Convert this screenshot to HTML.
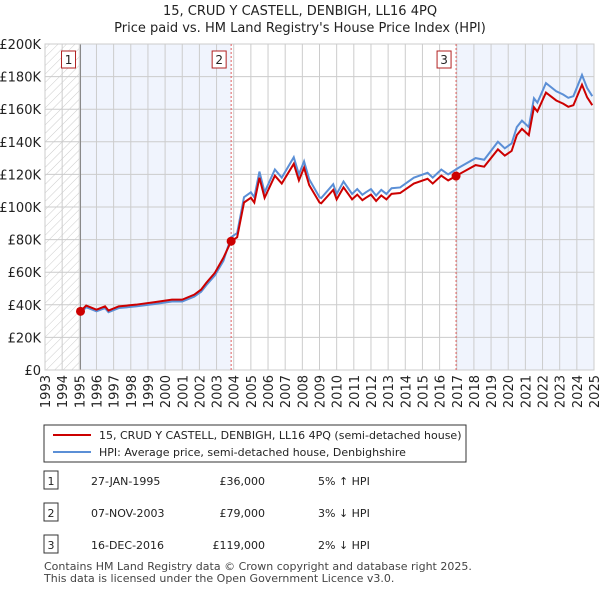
<!DOCTYPE html>
<html><head><meta charset="utf-8"><style>
body{margin:0;background:#fff;font-family:"Liberation Sans","DejaVu Sans",sans-serif;}
#wrap{position:relative;width:600px;height:590px;overflow:hidden}
svg text{font-family:"DejaVu Sans","Liberation Sans",sans-serif}
</style></head><body><div id="wrap">
<svg id="c" width="600" height="590"></svg>
</div>
<script>
const hpiYears=[1995.0,1995.4,1996.0,1996.5,1996.7,1997.3,1998.3,1999.4,2000.4,2001.0,2001.7,2002.1,2002.4,2002.9,2003.4,2003.85,2004.2,2004.6,2005.0,2005.2,2005.5,2005.8,2006.4,2006.8,2007.5,2007.8,2008.1,2008.4,2009.0,2009.1,2009.8,2010.0,2010.4,2010.9,2011.2,2011.5,2011.7,2012.0,2012.3,2012.6,2012.9,2013.2,2013.7,2014.5,2015.3,2015.6,2016.1,2016.5,2017.1,2018.1,2018.6,2019.4,2019.8,2020.2,2020.5,2020.8,2021.2,2021.5,2021.7,2022.2,2022.8,2023.2,2023.5,2023.8,2024.3,2024.6,2024.9];
const hpiValues=[34300,38500,36000,38000,35500,38000,39000,40500,42000,42000,45000,48000,52000,58000,67000,81500,84000,106000,109000,106000,121700,109000,123000,118000,130500,120000,128000,117000,106000,105500,114000,108000,115600,108000,111000,107500,109000,111000,107000,110500,108000,111500,112000,118000,121000,118000,123000,120000,124000,130000,129000,140000,136000,139000,149000,153000,149000,166700,164000,176000,171000,169000,167000,168000,181000,173000,168000];
const saleYears=[1995.07,2003.85,2016.96];
const salePrices=[36000,79000,119000];
const saleLabels=["1","2","3"];
const saleDates=["27-JAN-1995","07-NOV-2003","16-DEC-2016"];
const salePriceText=["£36,000","£79,000","£119,000"];
const saleHpiText=["5% \u2191 HPI","3% \u2193 HPI","2% \u2193 HPI"];
const yTicks=[0,20000,40000,60000,80000,100000,120000,140000,160000,180000,200000];
const yTickLabels=["£0","£20K","£40K","£60K","£80K","£100K","£120K","£140K","£160K","£180K","£200K"];
const xTicks=[1993,1994,1995,1996,1997,1998,1999,2000,2001,2002,2003,2004,2005,2006,2007,2008,2009,2010,2011,2012,2013,2014,2015,2016,2017,2018,2019,2020,2021,2022,2023,2024,2025];

const L=45,R=594,T=44,B=370;
const X=y=>L+(y-1993)/(2025-1993)*(R-L);
const Y=v=>B-v/200000*(B-T);
const svg=document.getElementById('c');
const NS='http://www.w3.org/2000/svg';
function mk(tag,attrs,parent){const e=document.createElementNS(NS,tag);for(const k in attrs)e.setAttribute(k,attrs[k]);(parent||svg).appendChild(e);return e;}
function hpiAt(yr){for(let i=0;i<hpiYears.length-1;i++){if(yr<=hpiYears[i+1]){const t=(yr-hpiYears[i])/(hpiYears[i+1]-hpiYears[i]);return hpiValues[i]+t*(hpiValues[i+1]-hpiValues[i]);}}return hpiValues[hpiValues.length-1];}

const defs=mk('defs',{});
const pat=mk('pattern',{id:'h',width:6,height:6,patternUnits:'userSpaceOnUse',patternTransform:'rotate(45)'},defs);
mk('line',{x1:0,y1:0,x2:0,y2:6,stroke:'#ccc','stroke-width':1},pat);
let e;
e=mk('rect',{x:L,y:T,width:X(saleYears[0])-L,height:B-T,fill:'url(#h)'});

e=mk('rect',{x:X(saleYears[0]),y:T,width:X(saleYears[1])-X(saleYears[0]),height:B-T,fill:'#f0f4fd'});

e=mk('rect',{x:X(saleYears[2]),y:T,width:R-X(saleYears[2]),height:B-T,fill:'#f0f4fd'});


yTicks.forEach((v,i)=>{
  e=mk('line',{x1:L,x2:R,y1:Y(v),y2:Y(v),stroke:'#ccc','stroke-width':1});
  
  e=mk('text',{x:L-4,y:Y(v)+5,'text-anchor':'end','font-size':13,fill:'#222'});e.textContent=yTickLabels[i];
  
});
xTicks.forEach(yr=>{
  e=mk('line',{x1:X(yr),x2:X(yr),y1:T,y2:B,stroke:'#ccc','stroke-width':1});
  
  e=mk('text',{transform:`translate(${X(yr)+5},${B+5}) rotate(-90)`,'text-anchor':'end','font-size':13,fill:'#222'});e.textContent=yr;
  
});
e=mk('line',{x1:X(saleYears[0]),x2:X(saleYears[0]),y1:T,y2:B,stroke:'#888','stroke-width':1});

e=mk('rect',{x:L,y:T,width:R-L,height:B-T,fill:'none',stroke:'#ccc'});


saleYears.forEach((yr,i)=>{
  if(i>0){e=mk('line',{x1:X(yr),x2:X(yr),y1:T,y2:B,stroke:'#e06060','stroke-width':1,'stroke-dasharray':'2,2'});
  }
});

const hp=hpiYears.map((y,i)=>X(y)+','+Y(hpiValues[i])).join(' ');
e=mk('polyline',{points:hp,fill:'none',stroke:'#5b8fd6','stroke-width':2});

const ratios=saleYears.map((y,i)=>salePrices[i]/hpiAt(y));
const rpts=[];
hpiYears.concat(saleYears).filter(y=>y>=saleYears[0]).sort((a,b)=>a-b).forEach(y=>{let k=0;for(let j=0;j<saleYears.length;j++)if(y>=saleYears[j]-0.001)k=j;rpts.push(X(y)+','+Y(hpiAt(y)*ratios[k]));});
e=mk('polyline',{points:rpts.join(' '),fill:'none',stroke:'#cc0000','stroke-width':2});


saleYears.forEach((yr,i)=>{
  e=mk('circle',{cx:X(yr),cy:Y(salePrices[i]),r:4.5,fill:'#cc0000'});
  
  e=mk('rect',{x:X(yr)-19,y:51,width:14,height:17,fill:'#fff',stroke:'#b22222'});
  
  e=mk('text',{x:X(yr)-12,y:64,'text-anchor':'middle','font-size':12,fill:'#222'});e.textContent=saleLabels[i];
  
});

e=mk('text',{x:300,y:15,'text-anchor':'middle','font-size':13,fill:'#222'});e.textContent='15, CRUD Y CASTELL, DENBIGH, LL16 4PQ';

e=mk('text',{x:300,y:32,'text-anchor':'middle','font-size':13,fill:'#222'});e.textContent="Price paid vs. HM Land Registry's House Price Index (HPI)";


e=mk('rect',{x:44,y:425,width:422,height:37,fill:'#fff',stroke:'#333'});

e=mk('line',{x1:53,x2:91,y1:435,y2:435,stroke:'#cc0000','stroke-width':2});

e=mk('text',{x:99,y:439,'font-size':11,fill:'#222'});e.textContent='15, CRUD Y CASTELL, DENBIGH, LL16 4PQ (semi-detached house)';

e=mk('line',{x1:53,x2:91,y1:452,y2:452,stroke:'#5b8fd6','stroke-width':2});

e=mk('text',{x:99,y:456,'font-size':11,fill:'#222'});e.textContent='HPI: Average price, semi-detached house, Denbighshire';


saleYears.forEach((yr,i)=>{
  const cy=481+i*32;
  e=mk('rect',{x:44,y:cy-10,width:14,height:18,fill:'#fff',stroke:'#333'});
  
  e=mk('text',{x:51,y:cy+4,'text-anchor':'middle','font-size':11,fill:'#222'});e.textContent=saleLabels[i];
  
  e=mk('text',{x:91,y:cy+4,'font-size':11,fill:'#222'});e.textContent=saleDates[i];
  
  e=mk('text',{x:265,y:cy+4,'text-anchor':'end','font-size':11,fill:'#222'});e.textContent=salePriceText[i];
  
  e=mk('text',{x:318,y:cy+4,'font-size':11,fill:'#222'});e.textContent=saleHpiText[i];
  
});
e=mk('text',{x:44,y:570,'font-size':11,fill:'#444'});e.textContent='Contains HM Land Registry data © Crown copyright and database right 2025.';

e=mk('text',{x:44,y:582,'font-size':11,fill:'#444'});e.textContent='This data is licensed under the Open Government Licence v3.0.';

</script></body></html>
